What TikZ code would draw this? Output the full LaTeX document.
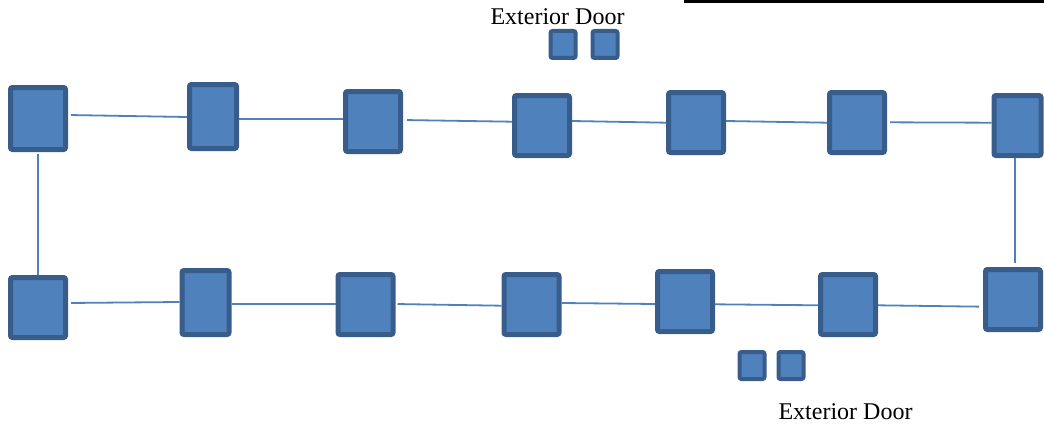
\documentclass[tikz,border=0pt]{standalone}
\usepackage{fontspec}
\setmainfont{Liberation Serif}
\definecolor{roomfill}{HTML}{4F81BD}
\definecolor{roomedge}{HTML}{385D8A}

\begin{document}
\begin{tikzpicture}[x=1pt,y=-1pt]
    % `room' is used for the stations, `door' for the small door squares.
    % `link' is used for the thin connecting lines.
    \tikzstyle{room} = [draw=roomedge,fill=roomfill,line width=5pt,rounded corners=2pt,inner sep=0pt,minimum width=55pt,minimum height=60pt]
    \tikzstyle{narrow} = [minimum width=47pt,minimum height=64pt]
    \tikzstyle{door} = [draw=roomedge,fill=roomfill,line width=4pt,rounded corners=2pt,inner sep=0pt,minimum width=25pt,minimum height=27pt]
    \tikzstyle{link} = [draw=roomfill,line width=1.8pt]
    \useasboundingbox (0,0) rectangle (1044,428);
    %
    % Top row.
    \node[room,minimum height=62pt] (t1) at (38,118.5) {};
    \node[room,narrow] (t2) at (213,116.5) {};
    \node[room] (t3) at (373,121.5) {};
    \node[room] (t4) at (542,125.5) {};
    \node[room] (t5) at (696,122.5) {};
    \node[room] (t6) at (857,122.5) {};
    \node[room,minimum width=47pt] (t7) at (1017.5,125.5) {};
    % Bottom row.
    \node[room] (b1) at (38,307.5) {};
    \node[room,narrow] (b2) at (205.5,302.5) {};
    \node[room] (b3) at (365.5,304.5) {};
    \node[room] (b4) at (531.5,304.5) {};
    \node[room] (b5) at (685,301.5) {};
    \node[room] (b6) at (848,304.5) {};
    \node[room] (b7) at (1013,299.5) {};
    %
    % Doors and their labels.
    \node[door] (d1) at (563,44.5) {};
    \node[door] (d2) at (605,44.5) {};
    \node[door] (d3) at (752,365.5) {};
    \node[door] (d4) at (791,365.5) {};
    \node[anchor=base,font=\fontsize{24}{28}\selectfont] (lbltop) at (557.5,25) {Exterior Door};
    \node[anchor=base,font=\fontsize{24}{28}\selectfont] (lblbot) at (845.5,419) {Exterior Door};
    %
    % Black rule at the top right.
    \coordinate (rule0) at (684,1.5);
    \coordinate (rule1) at (1044,1.5);
    \draw[line width=3pt] (rule0) -- (rule1);
    %
    % Draw lines (top row).
    \draw[link,shorten <=3pt] (t1.east |- 0,115) -- (t2.west |- 0,117);
    \draw[link] (t2.east |- 0,118.7) -- (t3.west |- 0,118.7);
    \draw[link,shorten <=4pt] (t3.east |- 0,120) -- (t4.west |- 0,121.7);
    \draw[link] (t4.east |- 0,121) -- (t5.west |- 0,122.7);
    \draw[link] (t5.east |- 0,121) -- (t6.west |- 0,122.7);
    \draw[link,shorten <=3pt] (t6.east |- 0,122.3) -- (t7.west |- 0,122.7);
    % Draw lines (bottom row).
    \draw[link,shorten <=3pt] (b1.east |- 0,303) -- (b2.west |- 0,302);
    \draw[link] (b2.east |- 0,304) -- (b3.west |- 0,304);
    \draw[link,shorten <=2pt] (b3.east |- 0,304) -- (b4.west |- 0,305.7);
    \draw[link] (b4.east |- 0,303) -- (b5.west |- 0,304);
    \draw[link] (b5.east |- 0,304.3) -- (b6.west |- 0,305.3);
    \draw[link,shorten >=4pt] (b6.east |- 0,305.3) -- (b7.west |- 0,306.7);
    % Draw lines (sides).
    \draw[link] (t1.south) ++(0,2) -- (b1.north);
    \draw[link,shorten >=4pt] (t7.south -| 1015,0) -- (b7.north -| 1015,0);
\end{tikzpicture}
\end{document}
